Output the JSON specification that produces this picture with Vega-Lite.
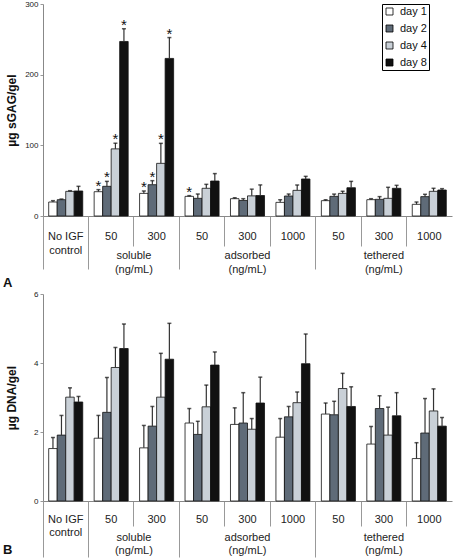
{
  "$schema": "https://vega.github.io/schema/vega-lite/v6.json",
  "padding": {"left": 3, "top": 0, "right": 1, "bottom": 0},
  "spacing": 0,
  "config": {
    "font": "Liberation Sans",
    "view": {"stroke": null},
    "axis": {"grid": false, "labelColor": "#222", "titleColor": "#111", "domainColor": "#888", "tickColor": "#999"}
  },
  "datasets": {
    "gag": [
      {"cond": "ctrl", "day": "day 1", "value": 19.8, "upper": 21.7, "sig": ""},
      {"cond": "ctrl", "day": "day 2", "value": 23.1, "upper": 24.0, "sig": ""},
      {"cond": "ctrl", "day": "day 4", "value": 34.9, "upper": 35.8, "sig": ""},
      {"cond": "ctrl", "day": "day 8", "value": 35.4, "upper": 42.0, "sig": ""},
      {"cond": "sol50", "day": "day 1", "value": 34.4, "upper": 37.3, "sig": "*"},
      {"cond": "sol50", "day": "day 2", "value": 42.0, "upper": 49.0, "sig": "*"},
      {"cond": "sol50", "day": "day 4", "value": 95.0, "upper": 103.0, "sig": "*"},
      {"cond": "sol50", "day": "day 8", "value": 247.0, "upper": 265.0, "sig": "*"},
      {"cond": "sol300", "day": "day 1", "value": 32.0, "upper": 35.4, "sig": "*"},
      {"cond": "sol300", "day": "day 2", "value": 44.3, "upper": 50.0, "sig": "*"},
      {"cond": "sol300", "day": "day 4", "value": 74.5, "upper": 102.8, "sig": "*"},
      {"cond": "sol300", "day": "day 8", "value": 223.0, "upper": 252.5, "sig": "*"},
      {"cond": "ads50", "day": "day 1", "value": 27.8, "upper": 28.8, "sig": "*"},
      {"cond": "ads50", "day": "day 2", "value": 25.0, "upper": 31.1, "sig": ""},
      {"cond": "ads50", "day": "day 4", "value": 39.2, "upper": 44.8, "sig": ""},
      {"cond": "ads50", "day": "day 8", "value": 49.5, "upper": 60.0, "sig": ""},
      {"cond": "ads300", "day": "day 1", "value": 24.5, "upper": 25.8, "sig": ""},
      {"cond": "ads300", "day": "day 2", "value": 22.0, "upper": 24.5, "sig": ""},
      {"cond": "ads300", "day": "day 4", "value": 28.5, "upper": 38.0, "sig": ""},
      {"cond": "ads300", "day": "day 8", "value": 29.0, "upper": 44.0, "sig": ""},
      {"cond": "ads1000", "day": "day 1", "value": 19.3, "upper": 23.0, "sig": ""},
      {"cond": "ads1000", "day": "day 2", "value": 28.3, "upper": 31.1, "sig": ""},
      {"cond": "ads1000", "day": "day 4", "value": 36.3, "upper": 43.9, "sig": ""},
      {"cond": "ads1000", "day": "day 8", "value": 52.4, "upper": 56.1, "sig": ""},
      {"cond": "teth50", "day": "day 1", "value": 21.7, "upper": 23.0, "sig": ""},
      {"cond": "teth50", "day": "day 2", "value": 27.8, "upper": 31.0, "sig": ""},
      {"cond": "teth50", "day": "day 4", "value": 32.0, "upper": 35.0, "sig": ""},
      {"cond": "teth50", "day": "day 8", "value": 40.0, "upper": 49.0, "sig": ""},
      {"cond": "teth300", "day": "day 1", "value": 23.1, "upper": 24.5, "sig": ""},
      {"cond": "teth300", "day": "day 2", "value": 23.6, "upper": 27.4, "sig": ""},
      {"cond": "teth300", "day": "day 4", "value": 25.0, "upper": 40.6, "sig": ""},
      {"cond": "teth300", "day": "day 8", "value": 39.2, "upper": 43.4, "sig": ""},
      {"cond": "teth1000", "day": "day 1", "value": 16.5, "upper": 19.8, "sig": ""},
      {"cond": "teth1000", "day": "day 2", "value": 27.4, "upper": 30.7, "sig": ""},
      {"cond": "teth1000", "day": "day 4", "value": 34.9, "upper": 39.2, "sig": ""},
      {"cond": "teth1000", "day": "day 8", "value": 36.8, "upper": 38.7, "sig": ""}
    ],
    "dna": [
      {"cond": "ctrl", "day": "day 1", "value": 1.52, "upper": 1.84},
      {"cond": "ctrl", "day": "day 2", "value": 1.91, "upper": 2.48},
      {"cond": "ctrl", "day": "day 4", "value": 3.01, "upper": 3.28},
      {"cond": "ctrl", "day": "day 8", "value": 2.87, "upper": 3.03},
      {"cond": "sol50", "day": "day 1", "value": 1.82, "upper": 2.48},
      {"cond": "sol50", "day": "day 2", "value": 2.57, "upper": 3.58},
      {"cond": "sol50", "day": "day 4", "value": 3.87, "upper": 4.45},
      {"cond": "sol50", "day": "day 8", "value": 4.42, "upper": 5.13},
      {"cond": "sol300", "day": "day 1", "value": 1.54, "upper": 2.19},
      {"cond": "sol300", "day": "day 2", "value": 2.17, "upper": 2.74},
      {"cond": "sol300", "day": "day 4", "value": 3.01, "upper": 4.28},
      {"cond": "sol300", "day": "day 8", "value": 4.11, "upper": 5.15},
      {"cond": "ads50", "day": "day 1", "value": 2.26, "upper": 2.68},
      {"cond": "ads50", "day": "day 2", "value": 1.93, "upper": 2.31},
      {"cond": "ads50", "day": "day 4", "value": 2.73, "upper": 3.36},
      {"cond": "ads50", "day": "day 8", "value": 3.94, "upper": 4.32},
      {"cond": "ads300", "day": "day 1", "value": 2.22, "upper": 2.70},
      {"cond": "ads300", "day": "day 2", "value": 2.26, "upper": 3.14},
      {"cond": "ads300", "day": "day 4", "value": 2.08, "upper": 2.39},
      {"cond": "ads300", "day": "day 8", "value": 2.84, "upper": 3.59},
      {"cond": "ads1000", "day": "day 1", "value": 1.85, "upper": 2.39},
      {"cond": "ads1000", "day": "day 2", "value": 2.44, "upper": 2.74},
      {"cond": "ads1000", "day": "day 4", "value": 2.85, "upper": 3.16},
      {"cond": "ads1000", "day": "day 8", "value": 3.98, "upper": 4.84},
      {"cond": "teth50", "day": "day 1", "value": 2.52, "upper": 2.84},
      {"cond": "teth50", "day": "day 2", "value": 2.50, "upper": 2.89},
      {"cond": "teth50", "day": "day 4", "value": 3.26, "upper": 3.70},
      {"cond": "teth50", "day": "day 8", "value": 2.74, "upper": 3.31},
      {"cond": "teth300", "day": "day 1", "value": 1.65, "upper": 2.16},
      {"cond": "teth300", "day": "day 2", "value": 2.68, "upper": 3.05},
      {"cond": "teth300", "day": "day 4", "value": 1.91, "upper": 2.72},
      {"cond": "teth300", "day": "day 8", "value": 2.47, "upper": 3.14},
      {"cond": "teth1000", "day": "day 1", "value": 1.23, "upper": 1.69},
      {"cond": "teth1000", "day": "day 2", "value": 1.97, "upper": 2.97},
      {"cond": "teth1000", "day": "day 4", "value": 2.61, "upper": 3.25},
      {"cond": "teth1000", "day": "day 8", "value": 2.17, "upper": 2.42}
    ],
    "grpSol": [{"cond": "sol50", "label": "soluble\n(ng/mL)"}],
    "grpOther": [
      {"cond": "ads300", "label": "adsorbed\n(ng/mL)"},
      {"cond": "teth300", "label": "tethered\n(ng/mL)"}
    ]
  },
  "vconcat": [
    {
      "width": 409,
      "height": 212,
      "resolve": {"axis": {"x": "independent"}},
      "layer": [
        {
          "data": {"name": "gag"},
          "mark": {"type": "bar", "stroke": "#111", "strokeWidth": 0.8},
          "encoding": {
            "x": {"field": "cond", "type": "nominal",
                  "scale": {"domain": ["ctrl","sol50","sol300","ads50","ads300","ads1000","teth50","teth300","teth1000"], "paddingInner": 0, "paddingOuter": 0},
                  "axis": {"title": null, "labelAngle": 0, "bandPosition": 0, "tickSize": 30, "labelPadding": -16, "labelFontSize": 11, "labelLineHeight": 14, "labelBaseline": "top",
                           "labelExpr": "datum.value == 'ctrl' ? ['No IGF', 'control'] : replace(replace(replace(datum.value, 'sol', ''), 'ads', ''), 'teth', '')"}},
            "xOffset": {"field": "day", "type": "nominal", "scale": {"domain": ["day 1","day 2","day 4","day 8"], "paddingInner": 0, "paddingOuter": 0.67}},
            "y": {"field": "value", "type": "quantitative", "title": "µg sGAG/gel", "scale": {"domain": [0, 300], "nice": false},
                  "axis": {"values": [0,50,100,150,200,250,300], "tickSize": 3, "labelPadding": 2, "labelFontSize": 8, "titleFontSize": 12, "titleFontWeight": "bold", "titleX": -25}},
            "fill": {"field": "day", "type": "nominal", "scale": {"domain": ["day 1","day 2","day 4","day 8"], "range": ["#ffffff","#5f6b78","#c9d0d7","#111111"]},
                     "legend": {"orient": "none", "legendX": 339, "legendY": 0, "title": null, "strokeColor": "#000", "fillColor": "#fff", "padding": 2, "symbolType": "square", "symbolSize": 49, "symbolStrokeColor": "#000", "symbolStrokeWidth": 0.8, "labelFontSize": 11, "labelColor": "#111", "rowPadding": 5, "labelOffset": 5}}
          }
        },
        {
          "data": {"name": "gag"},
          "mark": {"type": "rule", "color": "#333", "strokeWidth": 1.2},
          "encoding": {
            "x": {"field": "cond", "type": "nominal", "axis": null},
            "xOffset": {"field": "day", "type": "nominal"},
            "y": {"field": "value", "type": "quantitative", "title": "µg sGAG/gel"},
            "y2": {"field": "upper"}
          }
        },
        {
          "data": {"name": "gag"},
          "mark": {"type": "tick", "orient": "horizontal", "size": 4, "thickness": 1.5, "color": "#111"},
          "encoding": {
            "x": {"field": "cond", "type": "nominal", "axis": null},
            "xOffset": {"field": "day", "type": "nominal"},
            "y": {"field": "upper", "type": "quantitative", "title": "µg sGAG/gel"}
          }
        },
        {
          "data": {"name": "gag"},
          "transform": [{"filter": "datum.sig == '*'"}],
          "mark": {"type": "text", "fontSize": 15, "baseline": "alphabetic", "dy": 1, "color": "#111"},
          "encoding": {
            "x": {"field": "cond", "type": "nominal", "axis": null},
            "xOffset": {"field": "day", "type": "nominal"},
            "y": {"field": "upper", "type": "quantitative", "title": "µg sGAG/gel"},
            "text": {"field": "sig"}
          }
        },
        {
          "data": {"name": "grpSol"},
          "mark": {"type": "text", "baseline": "top", "dy": 34, "fontSize": 11, "lineHeight": 14, "lineBreak": "\n", "color": "#222"},
          "encoding": {
            "x": {"field": "cond", "type": "nominal", "bandPosition": 1,
                  "axis": {"orient": "bottom", "title": null, "labels": false, "domain": false, "bandPosition": 0, "tickSize": 53, "values": ["ctrl","sol50","ads50","teth50"]}},
            "y": {"datum": 0, "type": "quantitative"},
            "text": {"field": "label"}
          }
        },
        {
          "data": {"name": "grpOther"},
          "mark": {"type": "text", "baseline": "top", "dy": 34, "fontSize": 11, "lineHeight": 14, "lineBreak": "\n", "color": "#222"},
          "encoding": {
            "x": {"field": "cond", "type": "nominal", "axis": null},
            "y": {"datum": 0, "type": "quantitative"},
            "text": {"field": "label"}
          }
        },
        {
          "data": {"values": [{"t": "A"}]},
          "mark": {"type": "text", "align": "left", "baseline": "top", "dx": -40, "dy": 61, "fontSize": 13, "fontWeight": "bold", "color": "#111"},
          "encoding": {
            "x": {"datum": "ctrl", "type": "nominal", "bandPosition": 0, "axis": null},
            "y": {"datum": 0, "type": "quantitative"},
            "text": {"field": "t"}
          }
        }
      ]
    },
    {
      "width": 409,
      "height": 207,
      "resolve": {"axis": {"x": "independent"}},
      "layer": [
        {
          "data": {"name": "dna"},
          "mark": {"type": "bar", "stroke": "#111", "strokeWidth": 0.8},
          "encoding": {
            "x": {"field": "cond", "type": "nominal",
                  "scale": {"domain": ["ctrl","sol50","sol300","ads50","ads300","ads1000","teth50","teth300","teth1000"], "paddingInner": 0, "paddingOuter": 0},
                  "axis": {"title": null, "labelAngle": 0, "bandPosition": 0, "tickSize": 25, "labelPadding": -13, "labelFontSize": 11, "labelLineHeight": 13, "labelBaseline": "top",
                           "labelExpr": "datum.value == 'ctrl' ? ['No IGF', 'control'] : replace(replace(replace(datum.value, 'sol', ''), 'ads', ''), 'teth', '')"}},
            "xOffset": {"field": "day", "type": "nominal", "scale": {"domain": ["day 1","day 2","day 4","day 8"], "paddingInner": 0, "paddingOuter": 0.67}},
            "y": {"field": "value", "type": "quantitative", "title": "µg DNA/gel", "scale": {"domain": [0, 6], "nice": false},
                  "axis": {"values": [0,1,2,3,4,5,6], "tickSize": 3, "labelPadding": 2, "labelFontSize": 8, "titleFontSize": 12, "titleFontWeight": "bold", "titleX": -25}},
            "fill": {"field": "day", "type": "nominal", "scale": {"domain": ["day 1","day 2","day 4","day 8"], "range": ["#ffffff","#5f6b78","#c9d0d7","#111111"]},
                     "legend": {"orient": "none", "legendX": 335, "legendY": -1, "title": null, "strokeColor": "#000", "fillColor": "#fff", "padding": 2, "symbolType": "square", "symbolSize": 49, "symbolStrokeColor": "#000", "symbolStrokeWidth": 0.8, "labelFontSize": 11, "labelColor": "#111", "rowPadding": 5, "labelOffset": 5}}
          }
        },
        {
          "data": {"name": "dna"},
          "mark": {"type": "rule", "color": "#333", "strokeWidth": 1.2},
          "encoding": {
            "x": {"field": "cond", "type": "nominal", "axis": null},
            "xOffset": {"field": "day", "type": "nominal"},
            "y": {"field": "value", "type": "quantitative", "title": "µg DNA/gel"},
            "y2": {"field": "upper"}
          }
        },
        {
          "data": {"name": "dna"},
          "mark": {"type": "tick", "orient": "horizontal", "size": 4, "thickness": 1.5, "color": "#111"},
          "encoding": {
            "x": {"field": "cond", "type": "nominal", "axis": null},
            "xOffset": {"field": "day", "type": "nominal"},
            "y": {"field": "upper", "type": "quantitative", "title": "µg DNA/gel"}
          }
        },
        {
          "data": {"name": "grpSol"},
          "mark": {"type": "text", "baseline": "top", "dy": 31, "fontSize": 11, "lineHeight": 13, "lineBreak": "\n", "color": "#222"},
          "encoding": {
            "x": {"field": "cond", "type": "nominal", "bandPosition": 1,
                  "axis": {"orient": "bottom", "title": null, "labels": false, "domain": false, "bandPosition": 0, "tickSize": 56, "values": ["ctrl","sol50","ads50","teth50"]}},
            "y": {"datum": 0, "type": "quantitative"},
            "text": {"field": "label"}
          }
        },
        {
          "data": {"name": "grpOther"},
          "mark": {"type": "text", "baseline": "top", "dy": 31, "fontSize": 11, "lineHeight": 13, "lineBreak": "\n", "color": "#222"},
          "encoding": {
            "x": {"field": "cond", "type": "nominal", "axis": null},
            "y": {"datum": 0, "type": "quantitative"},
            "text": {"field": "label"}
          }
        },
        {
          "data": {"values": [{"t": "B"}]},
          "mark": {"type": "text", "align": "left", "baseline": "top", "dx": -40, "dy": 43, "fontSize": 13, "fontWeight": "bold", "color": "#111"},
          "encoding": {
            "x": {"datum": "ctrl", "type": "nominal", "bandPosition": 0, "axis": null},
            "y": {"datum": 0, "type": "quantitative"},
            "text": {"field": "t"}
          }
        }
      ]
    }
  ]
}
